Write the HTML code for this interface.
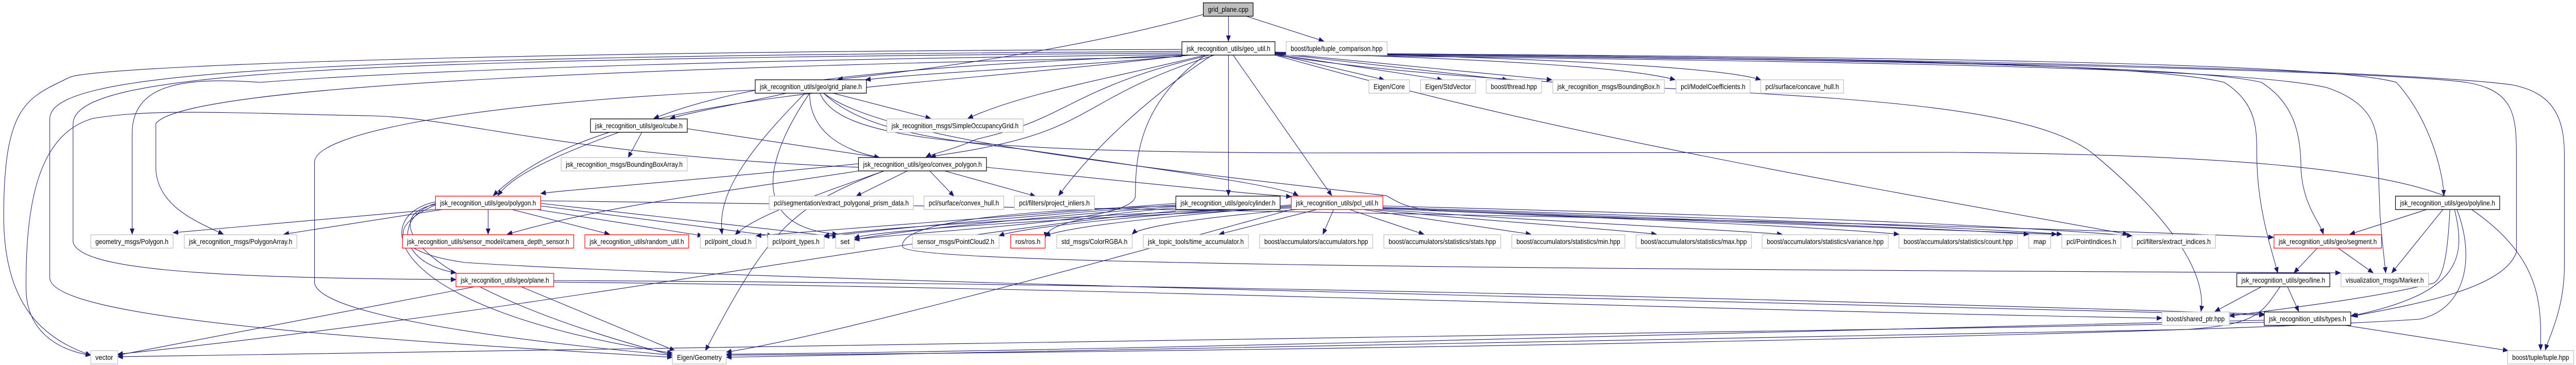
<!DOCTYPE html>
<html><head><meta charset="utf-8"><style>
html,body{margin:0;padding:0;background:#fff;width:100%;height:100%;overflow:hidden;}
svg{display:block;position:absolute;left:0;top:0;width:100vw;height:100vh;}
text{font-family:"Liberation Sans",Arial,sans-serif;font-size:14px;fill:#000;}
.e{fill:none;stroke:#191970;stroke-width:1.1;marker-end:url(#a);}
.g{fill:#fff;stroke:#bfbfbf;stroke-width:1.3;}
.b{fill:#fff;stroke:#000;stroke-width:1.3;}
.r{fill:#fff;stroke:#ff0000;stroke-width:1.3;}
.c{fill:#bfbfbf;stroke:#000;stroke-width:1.3;}
</style></head><body>
<svg viewBox="0 0 5536 709" preserveAspectRatio="none" xmlns="http://www.w3.org/2000/svg">
<defs><marker id="a" markerWidth="12" markerHeight="10" refX="11" refY="5" orient="auto" markerUnits="userSpaceOnUse"><path d="M0,0 L12,5 L0,10 z" fill="#191970"/></marker></defs>
<g>
<path class="e" d="M2640,32 L2640,80"/>
<path class="e" d="M2586,28 C2300,100 1950,140 1800,154"/>
<path class="e" d="M2680,32 L2845,80"/>
<path class="e" d="M2540,96 C1000,100 200,130 150,150 C60,190 8,200 8,420 C8,600 100,660 195,690"/>
<path class="e" d="M2540,100 C600,110 110,140 107,230 L107,540 C110,620 800,660 1445,694"/>
<path class="e" d="M2540,103 C700,115 160,140 157,240 L157,470 C170,520 400,540 980,543"/>
<path class="e" d="M2540,106 C1200,120 700,150 560,160 C400,150 284,160 284,260 L284,455"/>
<path class="e" d="M2540,110 C1500,130 400,160 335,240 L335,330 C340,400 420,430 480,455"/>
<path class="e" d="M2550,107 C1900,180 1300,170 1060,380"/>
<path class="e" d="M1330,257 C1200,300 1100,340 1070,380"/>
<path class="e" d="M1845,318 C1500,350 1200,370 1162,376"/>
<path class="e" d="M1623,175 C1000,200 676,260 676,315 L676,550 C690,620 1200,670 1445,690"/>
<path class="e" d="M1845,325 C1200,300 1000,230 800,225 C500,220 330,210 200,230 C80,260 55,400 56,560 C56,640 120,680 195,690"/>
<path class="e" d="M2740,105 L2975,155"/>
<path class="e" d="M2740,105 L3100,155"/>
<path class="e" d="M2740,104 L3240,155"/>
<path class="e" d="M2740,103 L3335,155"/>
<path class="e" d="M2740,102 C3200,115 3500,130 3600,155"/>
<path class="e" d="M2740,101 C3300,112 3700,130 3784,155"/>
<path class="e" d="M2560,107 C2300,130 2000,140 1860,155"/>
<path class="e" d="M2540,107 C1900,130 1600,160 1405,230"/>
<path class="e" d="M1690,181 C1600,200 1500,215 1440,230"/>
<path class="e" d="M2590,107 C2400,150 2200,180 2080,230"/>
<path class="e" d="M2600,107 C2300,170 2300,230 2100,270 C2050,290 2000,300 1990,305"/>
<path class="e" d="M2610,107 C2350,180 2350,240 2150,280 C2080,295 2020,300 2000,305"/>
<path class="e" d="M2605,107 C2450,200 2340,300 2275,380"/>
<path class="e" d="M2590,107 C2450,200 2440,300 2440,380 C2440,430 2100,440 1836,465"/>
<path class="e" d="M2640,107 L2640,380"/>
<path class="e" d="M2650,107 L2862,380"/>
<path class="e" d="M2740,107 C3400,200 4300,150 4500,300 C4700,450 4740,550 4730,605"/>
<path class="e" d="M2740,107 C3300,250 3800,330 4573,455"/>
<path class="e" d="M1762,181 C1800,260 2000,295 2800,297 L4200,296 C4700,300 5150,320 5300,400 C5470,500 5460,600 5460,680"/>
<path class="e" d="M1770,181 C1900,270 2400,320 2979,380 C3010,395 3020,405 3100,410 L4420,455"/>
<path class="e" d="M1730,181 C1600,300 1540,380 1552,455"/>
<path class="e" d="M1740,181 C1650,300 1600,440 1800,455"/>
<path class="e" d="M2740,104 C3800,110 4600,120 4780,160 C4850,200 4850,250 4850,300 C4850,400 4880,480 4895,530"/>
<path class="e" d="M2740,105 C3900,115 4700,125 4860,160 C4930,200 4945,260 4945,330 C4950,400 4985,430 4993,455"/>
<path class="e" d="M2740,106 C4000,120 4800,130 5000,170 C5100,200 5110,250 5110,300 L5115,420 C5120,480 5125,510 5127,530"/>
<path class="e" d="M2740,103 C4000,110 5000,120 5150,160 C5220,230 5250,330 5252,380"/>
<path class="e" d="M2740,105 C4200,115 5150,140 5300,160 C5400,175 5408,220 5408,300 L5408,490 C5380,560 5200,590 5056,614"/>
<path class="e" d="M2740,104 C4300,112 5200,140 5400,165 C5480,180 5511,220 5511,300 L5511,520 C5510,600 5480,650 5470,680"/>
<path class="e" d="M2866,407 L2843,455"/>
<path class="e" d="M2900,407 L3060,455"/>
<path class="e" d="M2930,407 L3290,455"/>
<path class="e" d="M2950,407 C3200,430 3400,440 3560,455"/>
<path class="e" d="M2960,406 C3300,430 3600,440 3830,455"/>
<path class="e" d="M2965,405 C3500,425 3900,440 4081,455"/>
<path class="e" d="M2970,404 C3600,425 4100,440 4360,455"/>
<path class="e" d="M2972,403 C3600,420 4200,440 4431,455"/>
<path class="e" d="M2972,400 C3600,415 4200,430 4582,458"/>
<path class="e" d="M1162,390 C2000,400 3800,420 4886,461"/>
<path class="e" d="M2830,407 L2620,455"/>
<path class="e" d="M2790,407 C2600,420 2450,440 2433,455"/>
<path class="e" d="M2775,400 C2500,420 2300,440 2246,458"/>
<path class="e" d="M2775,398 C2500,415 2200,440 2147,458"/>
<path class="e" d="M2775,402 C2300,420 1900,440 1771,458"/>
<path class="e" d="M2775,404 C2300,425 1900,445 1836,462"/>
<path class="e" d="M2527,395 C2200,420 1900,440 1625,458"/>
<path class="e" d="M2527,398 C2200,420 1900,445 1771,460"/>
<path class="e" d="M2527,401 C2200,425 1950,445 1836,466"/>
<path class="e" d="M2527,404 C2300,420 2250,440 2246,462"/>
<path class="e" d="M970,404 L372,452"/>
<path class="e" d="M965,405 L610,455"/>
<path class="e" d="M1049,407 L1049,455"/>
<path class="e" d="M1100,407 L1310,455"/>
<path class="e" d="M1140,405 L1510,458"/>
<path class="e" d="M1162,400 L1660,458"/>
<path class="e" d="M1162,395 C1400,420 1600,440 1800,460"/>
<path class="e" d="M936,395 C850,420 850,510 980,530"/>
<path class="e" d="M936,397 C800,420 900,560 1445,690"/>
<path class="e" d="M936,392 C790,420 820,600 1445,686"/>
<path class="e" d="M2527,400 C2100,410 1930,440 1940,480 C1960,510 3000,522 5030,530"/>
<path class="e" d="M936,398 C830,440 840,490 1000,510 C1500,540 3000,570 4866,612"/>
<path class="e" d="M1190,548 C2500,560 3500,600 4646,618"/>
<path class="e" d="M1190,545 C2500,550 3800,580 4866,610"/>
<path class="e" d="M1020,557 L253,690"/>
<path class="e" d="M1120,557 L1450,681"/>
<path class="e" d="M4860,557 L4760,605"/>
<path class="e" d="M4916,557 L4940,605"/>
<path class="e" d="M4900,557 C4860,610 4850,630 4700,640 C3000,670 2000,685 1561,694"/>
<path class="e" d="M4980,482 L4930,530"/>
<path class="e" d="M5025,482 L5100,530"/>
<path class="e" d="M5215,407 L5050,455"/>
<path class="e" d="M5250,407 L5140,530"/>
<path class="e" d="M5265,407 C5260,500 5250,540 5230,550 C5100,580 4900,600 4791,614"/>
<path class="e" d="M5275,407 C5300,500 5290,570 5052,614"/>
<path class="e" d="M5280,407 C5320,500 5300,600 5200,620 C4700,650 3000,680 1561,690"/>
<path class="e" d="M5040,632 L5390,681"/>
<path class="e" d="M4866,622 C3500,650 2500,680 1561,688"/>
<path class="e" d="M4866,626 C3000,660 1000,690 253,693"/>
<path class="e" d="M1900,332 C1700,400 1650,450 1516,681"/>
<path class="e" d="M1950,332 L1840,381"/>
<path class="e" d="M1998,332 L2050,381"/>
<path class="e" d="M2030,332 L2225,381"/>
<path class="e" d="M2120,325 C2400,350 2600,370 2775,382"/>
<path class="e" d="M1900,332 C1750,380 1620,420 1580,456"/>
<path class="e" d="M1477,250 C1700,280 1850,300 1890,306"/>
<path class="e" d="M1380,256 L1350,306"/>
<path class="e" d="M1790,181 L2000,230"/>
<path class="e" d="M1740,181 C1740,250 1800,290 1890,306"/>
<path class="e" d="M1770,181 C1850,250 2000,270 2200,290 C2500,330 2750,360 2790,380"/>
<path class="e" d="M1860,330 C1500,380 1300,400 1090,455"/>
<path class="e" d="M2527,410 C2000,450 1200,600 253,688"/>
<path class="e" d="M2775,407 C2400,500 1800,650 1561,684"/>
</g>
<g>
<rect class="c" x="2586" y="5.5" width="107" height="26"/><text x="2596" y="23" textLength="87" lengthAdjust="spacingAndGlyphs">grid_plane.cpp</text>
<rect class="b" x="2540" y="81" width="200" height="26"/><text x="2550" y="99" textLength="180" lengthAdjust="spacingAndGlyphs">jsk_recognition_utils/geo_util.h</text>
<rect class="g" x="2764" y="81" width="217" height="26"/><text x="2774" y="99" textLength="197" lengthAdjust="spacingAndGlyphs">boost/tuple/tuple_comparison.hpp</text>
<rect class="b" x="1623" y="155" width="239" height="26"/><text x="1633" y="173" textLength="219" lengthAdjust="spacingAndGlyphs">jsk_recognition_utils/geo/grid_plane.h</text>
<rect class="g" x="2942" y="155" width="87" height="26"/><text x="2952" y="173" textLength="67" lengthAdjust="spacingAndGlyphs">Eigen/Core</text>
<rect class="g" x="3053" y="155" width="118" height="26"/><text x="3063" y="173" textLength="98" lengthAdjust="spacingAndGlyphs">Eigen/StdVector</text>
<rect class="g" x="3194" y="155" width="119" height="26"/><text x="3204" y="173" textLength="99" lengthAdjust="spacingAndGlyphs">boost/thread.hpp</text>
<rect class="g" x="3337" y="155" width="240" height="26"/><text x="3347" y="173" textLength="220" lengthAdjust="spacingAndGlyphs">jsk_recognition_msgs/BoundingBox.h</text>
<rect class="g" x="3602" y="155" width="159" height="26"/><text x="3612" y="173" textLength="139" lengthAdjust="spacingAndGlyphs">pcl/ModelCoefficients.h</text>
<rect class="g" x="3784" y="155" width="178" height="26"/><text x="3794" y="173" textLength="158" lengthAdjust="spacingAndGlyphs">pcl/surface/concave_hull.h</text>
<rect class="b" x="1269" y="231" width="208" height="26"/><text x="1279" y="249" textLength="188" lengthAdjust="spacingAndGlyphs">jsk_recognition_utils/geo/cube.h</text>
<rect class="g" x="1906" y="231" width="293" height="26"/><text x="1916" y="249" textLength="273" lengthAdjust="spacingAndGlyphs">jsk_recognition_msgs/SimpleOccupancyGrid.h</text>
<rect class="g" x="1206" y="306" width="271" height="26"/><text x="1216" y="324" textLength="251" lengthAdjust="spacingAndGlyphs">jsk_recognition_msgs/BoundingBoxArray.h</text>
<rect class="b" x="1845" y="306" width="275" height="26"/><text x="1855" y="324" textLength="255" lengthAdjust="spacingAndGlyphs">jsk_recognition_utils/geo/convex_polygon.h</text>
<rect class="r" x="936" y="381" width="226" height="26"/><text x="946" y="399" textLength="206" lengthAdjust="spacingAndGlyphs">jsk_recognition_utils/geo/polygon.h</text>
<rect class="g" x="1653" y="381" width="310" height="26"/><text x="1663" y="399" textLength="290" lengthAdjust="spacingAndGlyphs">pcl/segmentation/extract_polygonal_prism_data.h</text>
<rect class="g" x="1986" y="381" width="171" height="26"/><text x="1996" y="399" textLength="151" lengthAdjust="spacingAndGlyphs">pcl/surface/convex_hull.h</text>
<rect class="g" x="2180" y="381" width="172" height="26"/><text x="2190" y="399" textLength="152" lengthAdjust="spacingAndGlyphs">pcl/filters/project_inliers.h</text>
<rect class="b" x="2527" y="381" width="224" height="26"/><text x="2537" y="399" textLength="204" lengthAdjust="spacingAndGlyphs">jsk_recognition_utils/geo/cylinder.h</text>
<rect class="r" x="2775" y="381" width="197" height="26"/><text x="2785" y="399" textLength="177" lengthAdjust="spacingAndGlyphs">jsk_recognition_utils/pcl_util.h</text>
<rect class="b" x="5148" y="381" width="224" height="26"/><text x="5158" y="399" textLength="204" lengthAdjust="spacingAndGlyphs">jsk_recognition_utils/geo/polyline.h</text>
<rect class="g" x="195" y="456" width="177" height="26"/><text x="205" y="474" textLength="157" lengthAdjust="spacingAndGlyphs">geometry_msgs/Polygon.h</text>
<rect class="g" x="396" y="456" width="242" height="26"/><text x="406" y="474" textLength="222" lengthAdjust="spacingAndGlyphs">jsk_recognition_msgs/PolygonArray.h</text>
<rect class="r" x="865" y="456" width="368" height="26"/><text x="875" y="474" textLength="348" lengthAdjust="spacingAndGlyphs">jsk_recognition_utils/sensor_model/camera_depth_sensor.h</text>
<rect class="r" x="1257" y="456" width="223" height="26"/><text x="1267" y="474" textLength="203" lengthAdjust="spacingAndGlyphs">jsk_recognition_utils/random_util.h</text>
<rect class="g" x="1505" y="456" width="120" height="26"/><text x="1515" y="474" textLength="100" lengthAdjust="spacingAndGlyphs">pcl/point_cloud.h</text>
<rect class="g" x="1650" y="456" width="121" height="26"/><text x="1660" y="474" textLength="101" lengthAdjust="spacingAndGlyphs">pcl/point_types.h</text>
<rect class="g" x="1796" y="456" width="40" height="26"/><text x="1806" y="474" textLength="20" lengthAdjust="spacingAndGlyphs">set</text>
<rect class="g" x="1961" y="456" width="186" height="26"/><text x="1971" y="474" textLength="166" lengthAdjust="spacingAndGlyphs">sensor_msgs/PointCloud2.h</text>
<rect class="r" x="2172" y="456" width="74" height="26"/><text x="2182" y="474" textLength="54" lengthAdjust="spacingAndGlyphs">ros/ros.h</text>
<rect class="g" x="2271" y="456" width="162" height="26"/><text x="2281" y="474" textLength="142" lengthAdjust="spacingAndGlyphs">std_msgs/ColorRGBA.h</text>
<rect class="g" x="2457" y="456" width="226" height="26"/><text x="2467" y="474" textLength="206" lengthAdjust="spacingAndGlyphs">jsk_topic_tools/time_accumulator.h</text>
<rect class="g" x="2707" y="456" width="243" height="26"/><text x="2717" y="474" textLength="223" lengthAdjust="spacingAndGlyphs">boost/accumulators/accumulators.hpp</text>
<rect class="g" x="2974" y="456" width="251" height="26"/><text x="2984" y="474" textLength="231" lengthAdjust="spacingAndGlyphs">boost/accumulators/statistics/stats.hpp</text>
<rect class="g" x="3249" y="456" width="243" height="26"/><text x="3259" y="474" textLength="223" lengthAdjust="spacingAndGlyphs">boost/accumulators/statistics/min.hpp</text>
<rect class="g" x="3516" y="456" width="248" height="26"/><text x="3526" y="474" textLength="228" lengthAdjust="spacingAndGlyphs">boost/accumulators/statistics/max.hpp</text>
<rect class="g" x="3787" y="456" width="271" height="26"/><text x="3797" y="474" textLength="251" lengthAdjust="spacingAndGlyphs">boost/accumulators/statistics/variance.hpp</text>
<rect class="g" x="4081" y="456" width="255" height="26"/><text x="4091" y="474" textLength="235" lengthAdjust="spacingAndGlyphs">boost/accumulators/statistics/count.hpp</text>
<rect class="g" x="4360" y="456" width="47" height="26"/><text x="4370" y="474" textLength="27" lengthAdjust="spacingAndGlyphs">map</text>
<rect class="g" x="4431" y="456" width="127" height="26"/><text x="4441" y="474" textLength="107" lengthAdjust="spacingAndGlyphs">pcl/PointIndices.h</text>
<rect class="g" x="4582" y="456" width="179" height="26"/><text x="4592" y="474" textLength="159" lengthAdjust="spacingAndGlyphs">pcl/filters/extract_indices.h</text>
<rect class="r" x="4887" y="456" width="231" height="26"/><text x="4897" y="474" textLength="211" lengthAdjust="spacingAndGlyphs">jsk_recognition_utils/geo/segment.h</text>
<rect class="r" x="980" y="531" width="210" height="26"/><text x="990" y="549" textLength="190" lengthAdjust="spacingAndGlyphs">jsk_recognition_utils/geo/plane.h</text>
<rect class="b" x="4807" y="531" width="200" height="26"/><text x="4817" y="549" textLength="180" lengthAdjust="spacingAndGlyphs">jsk_recognition_utils/geo/line.h</text>
<rect class="g" x="5031" y="531" width="188" height="26"/><text x="5041" y="549" textLength="168" lengthAdjust="spacingAndGlyphs">visualization_msgs/Marker.h</text>
<rect class="g" x="4646" y="606" width="145" height="26"/><text x="4656" y="624" textLength="125" lengthAdjust="spacingAndGlyphs">boost/shared_ptr.hpp</text>
<rect class="b" x="4866" y="606" width="186" height="26"/><text x="4876" y="624" textLength="166" lengthAdjust="spacingAndGlyphs">jsk_recognition_utils/types.h</text>
<rect class="g" x="195" y="681" width="58" height="26"/><text x="205" y="699" textLength="38" lengthAdjust="spacingAndGlyphs">vector</text>
<rect class="g" x="1445" y="681" width="116" height="26"/><text x="1455" y="699" textLength="96" lengthAdjust="spacingAndGlyphs">Eigen/Geometry</text>
<rect class="g" x="5389" y="681" width="142" height="26"/><text x="5399" y="699" textLength="122" lengthAdjust="spacingAndGlyphs">boost/tuple/tuple.hpp</text>
</g>
</svg>
</body></html>
